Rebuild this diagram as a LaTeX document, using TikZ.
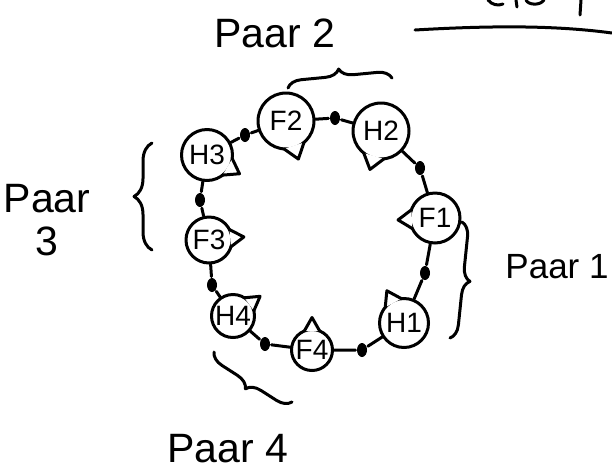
\documentclass[tikz,border=0pt]{standalone}
\usepackage{fontspec}
\setmainfont{Liberation Sans}
\usetikzlibrary{calc,shapes.geometric,decorations.pathreplacing}
\newcommand\pnose[3]{%
  \draw[fill=white] ($(#1)+(#2-22:#3)$) -- ($(#1)+(#2:#3+12)$) -- ($(#1)+(#2+22:#3)$);}
\begin{document}
\begin{tikzpicture}[x=1pt,y=-1pt,
  line width=3pt, line cap=round, line join=round,
  person/.style={circle,draw,line width=3pt,inner sep=0pt,fill=white,font=\fontsize{28}{28}\selectfont},
  knot/.style={ellipse,fill=black,inner sep=0pt,minimum width=10pt,minimum height=14pt},
  bracedeco/.style={decorate,decoration={brace,amplitude=14pt}},
  lbl/.style={inner sep=0pt,font=\fontsize{41}{41}\selectfont},
  lblsmall/.style={inner sep=0pt,font=\fontsize{35}{35}\selectfont}
]
\useasboundingbox (0,0) rectangle (612,472);

% persons
\node[person,minimum size=56pt] (F2) at (286,121) {F2};
\node[person,minimum size=56pt] (H2) at (381,131) {H2};
\node[person,minimum size=51pt] (H3) at (207,155) {H3};
\node[person,minimum size=46pt] (F3) at (209,240) {F3};
\node[person,minimum size=43pt] (H4) at (233,316) {H4};
\node[person,minimum size=41pt] (F4) at (312,350) {F4};
\node[person,minimum size=49pt] (H1) at (404,323) {H1};
\node[person,minimum size=50pt] (F1) at (435,218) {F1};

% knots
\node[knot] (k1) at (245,135) {};
\node[knot] (k2) at (335,118) {};
\node[knot] (k3) at (420,168) {};
\node[knot] (k4) at (425,273) {};
\node[knot] (k5) at (362,350) {};
\node[knot] (k6) at (265,344) {};
\node[knot] (k7) at (212,285) {};
\node[knot] (k8) at (200,200) {};

% connectors
\draw (H3) -- (k1) -- (F2);
\draw (F2) -- (k2) -- (H2);
\draw (H2) -- (k3) -- (F1);
\draw (F1) -- (k4) -- (H1);
\draw (H1) -- (k5) -- (F4);
\draw (F4) -- (k6) -- (H4);
\draw (H4) -- (k7) -- (F3);
\draw (F3) -- (k8) -- (H3);

% noses
\pnose{F2}{72}{28}
\pnose{H2}{106}{28}
\pnose{H3}{30}{25.5}
\pnose{F3}{-5}{23}
\pnose{H4}{-36}{21.5}
\pnose{F4}{-90}{20.5}
\pnose{H1}{-118}{24.5}
\pnose{F1}{177}{25}

% braces
\coordinate (b2a) at (288,88);
\coordinate (b2b) at (392,78);
\draw[bracedeco] (b2a) -- (b2b);
\coordinate (b3a) at (152,250);
\coordinate (b3b) at (152,143);
\draw[bracedeco,decoration={amplitude=18pt}] (b3a) -- (b3b);
\coordinate (b1a) at (462,222);
\coordinate (b1b) at (450,338);
\draw[bracedeco] (b1a) -- (b1b);
\coordinate (b4a) at (292,402);
\coordinate (b4b) at (214,352);
\draw[bracedeco] (b4a) -- (b4b);

% labels
\node[lbl,anchor=base] (p2) at (275,47) {Paar 2};
\node[lblsmall,anchor=base] (p1) at (557,278) {Paar 1};
\node[lbl,anchor=base] (p4) at (228,462) {Paar 4};
\node[lbl,anchor=base] (p3) at (47,212) {Paar};
\node[lbl,anchor=base] (p3n) at (47,255) {3};

% top right fragments
\draw (415,30) .. controls (500,25) and (560,26) .. (612,33);
\draw (488,0) .. controls (492,5) and (498,6) .. (503,4);
\draw (516,0) -- (517,7);
\draw (526,0) .. controls (528,5) and (540,6) .. (544,0);
\draw (581,0) -- (580,15);
\end{tikzpicture}
\end{document}
